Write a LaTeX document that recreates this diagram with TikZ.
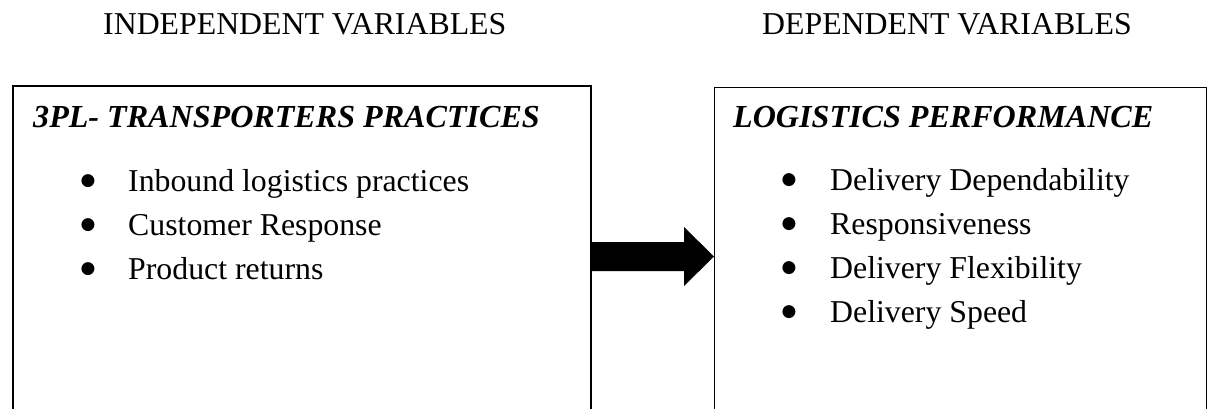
\documentclass[tikz,border=0pt]{standalone}
\usepackage{fontspec}
\setmainfont{Liberation Serif}
\newfontfamily\dejavu{DejaVu Sans}
\usetikzlibrary{calc}
\begin{document}
\begin{tikzpicture}[x=1pt,y=1pt,
  txt/.style={anchor=base west,inner sep=0pt,font=\fontsize{31.8}{38}\selectfont},
  hdr/.style={txt,font=\fontsize{32.1}{38}\selectfont\bfseries\itshape},
  bul/.style={anchor=base,inner sep=0pt,yshift=5.5pt,font=\dejavu\fontsize{17}{20}\selectfont},
  boxa/.style={draw,line width=1.8pt,anchor=north west,inner sep=0pt},
  boxb/.style={draw,line width=1.2pt,anchor=north west,inner sep=0pt}]
\useasboundingbox (0,0) rectangle (1212,408);
\fill[white] (0,0) rectangle (1212,408);
% column titles
\node[txt] (indep) at (103,373) {INDEPENDENT VARIABLES};
\node[txt] (dep) at (762,373) {DEPENDENT VARIABLES};
% boxes
\node[boxa,minimum width=578pt,minimum height=360pt] (lbox) at (12,323) {};
\node[boxb,minimum width=492pt,minimum height=360pt] (rbox) at (714,321) {};
% left box content
\node[hdr] (lh) at (33,281) {3PL- TRANSPORTERS PRACTICES};
\node[bul] (lb1) at (88,217) {●};
\node[txt] (l1) at (128,217) {Inbound logistics practices};
\node[bul] (lb2) at (88,173) {●};
\node[txt] (l2) at (128,173) {Customer Response};
\node[bul] (lb3) at (88,129) {●};
\node[txt] (l3) at (128,129) {Product returns};
% right box content
\node[hdr] (rh) at (733,281) {LOGISTICS PERFORMANCE};
\node[bul] (rb1) at (789,218) {●};
\node[txt] (r1) at (830,218) {Delivery Dependability};
\node[bul] (rb2) at (789,174) {●};
\node[txt] (r2) at (830,174) {Responsiveness};
\node[bul] (rb3) at (789,130) {●};
\node[txt] (r3) at (830,130) {Delivery Flexibility};
\node[bul] (rb4) at (789,86) {●};
\node[txt] (r4) at (830,86) {Delivery Speed};
% block arrow from left box to right box
\coordinate (a) at (lbox.east |- 0,151.5);
\coordinate (b) at (rbox.west |- 0,151.5);
\fill[black] ($(a)+(0,14.5)$) -- ($(b)+(-30,14.5)$) -- ($(b)+(-30,29.5)$) -- (b)
  -- ($(b)+(-30,-29.5)$) -- ($(b)+(-30,-14.5)$) -- ($(a)+(0,-14.5)$) -- cycle;
\end{tikzpicture}
\end{document}
